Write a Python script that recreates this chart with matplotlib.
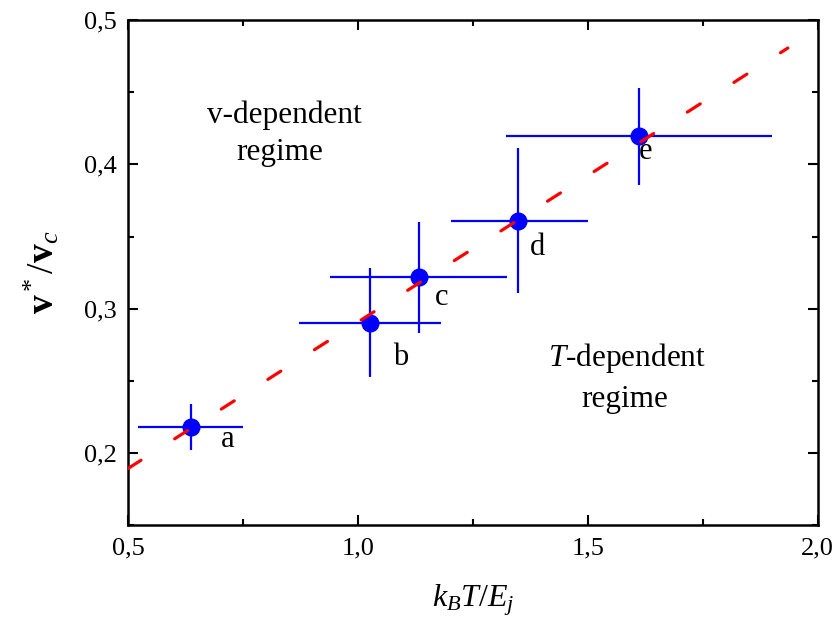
import matplotlib
matplotlib.use("Agg")
import matplotlib.pyplot as plt
from matplotlib.ticker import MultipleLocator, FuncFormatter

# data
x_vals = [0.637, 1.026, 1.133, 1.348, 1.611]
y_vals = [0.218, 0.290, 0.322, 0.361, 0.420]
x_lo = [0.522, 0.872, 0.939, 1.202, 1.322]
x_hi = [0.750, 1.180, 1.324, 1.500, 1.900]
y_lo = [0.202, 0.253, 0.283, 0.311, 0.386]
y_hi = [0.234, 0.328, 0.360, 0.411, 0.453]
point_names = ['a', 'b', 'c', 'd', 'e']
name_x = [0.716, 1.092, 1.182, 1.390, 1.626]
name_y = [0.2045, 0.2612, 0.3023, 0.3374, 0.4038]

# linear fit (dashed)
fit_x = [0.5, 1.935]
fit_y = [0.1893, 0.4806]

plt.rcParams['font.family'] = 'Liberation Serif'
plt.rcParams['mathtext.fontset'] = 'custom'
plt.rcParams['mathtext.rm'] = 'Liberation Serif'
plt.rcParams['mathtext.it'] = 'Liberation Serif:italic'
plt.rcParams['mathtext.bf'] = 'Liberation Serif:bold'

fig = plt.figure(figsize=(8.37, 6.26), dpi=100)
ax = fig.add_axes([0.153, 0.161, 0.824, 0.807])

xerr = [[x - lo for x, lo in zip(x_vals, x_lo)], [hi - x for x, hi in zip(x_vals, x_hi)]]
yerr = [[y - lo for y, lo in zip(y_vals, y_lo)], [hi - y for y, hi in zip(y_vals, y_hi)]]

ax.plot(fit_x, fit_y, color='red', lw=2.3, dashes=(4.8, 12.5),
        dash_capstyle='round', zorder=3)
ax.errorbar(x_vals, y_vals, xerr=xerr, yerr=yerr, fmt='o', color='#0000ff',
            ms=12, elinewidth=1.6, capsize=0, zorder=2)

for nx, ny, s in zip(name_x, name_y, point_names):
    ax.text(nx, ny, s, fontsize=22, ha='center', va='baseline')

ax.text(0.839, 0.4287, 'v-dependent', fontsize=22.5, ha='center', va='baseline')
ax.text(0.830, 0.403, 'regime', fontsize=22.5, ha='center', va='baseline')
ax.text(1.585, 0.260, '$T$-dependent', fontsize=22.5, ha='center', va='baseline')
ax.text(1.581, 0.232, 'regime', fontsize=22.5, ha='center', va='baseline')

ax.set_xlim(0.5, 2.0)
ax.set_ylim(0.15, 0.5)
ax.xaxis.set_major_locator(MultipleLocator(0.5))
ax.xaxis.set_minor_locator(MultipleLocator(0.25))
ax.yaxis.set_major_locator(MultipleLocator(0.1))
ax.yaxis.set_minor_locator(MultipleLocator(0.05))
comma = FuncFormatter(lambda v, p: ('%.1f' % v).replace('.', ','))
ax.xaxis.set_major_formatter(comma)
ax.yaxis.set_major_formatter(comma)

ax.tick_params(which='both', direction='in', top=True, right=True, width=1.5, labelsize=19)
ax.tick_params(which='major', length=7)
ax.tick_params(which='minor', length=4)
ax.tick_params(axis='x', pad=9)
ax.tick_params(axis='y', pad=8)
for sp in ax.spines.values():
    sp.set_linewidth(1.8)

ax.set_xlabel('$k_BT/E_j$', fontsize=23, labelpad=16)
ax.set_ylabel(r'$\mathbf{v}^*/\mathbf{v}_c$', fontsize=27, labelpad=16)

fig.savefig('out.png', dpi=100)
